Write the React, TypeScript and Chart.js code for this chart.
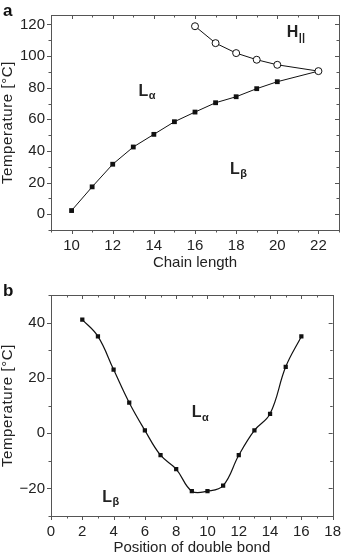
import { useEffect, useRef } from "react";
import { Chart, registerables } from "chart.js";

Chart.register(...registerables);

// Panel a: main transition (filled squares) and Lα → H‖ transition (open circles)
const chainLengths = [10, 11, 12, 13, 14, 15, 16, 17, 18, 19, 20, 22];
const mainTransitionTemps = [2.3, 17.3, 31.6, 42.5, 50.5, 58.5, 64.6, 70.5, 74.3, 79.4, 83.8, 90.5];
const hexChainLengths = [16, 17, 18, 19, 20, 22];
const hexTransitionTemps = [118.9, 108.2, 101.9, 97.7, 94.5, 90.5];
const chainTicks = [10, 12, 14, 16, 18, 20, 22];
const tempTicksA = [0, 20, 40, 60, 80, 100, 120];

// Panel b: main transition vs. position of the double bond
const bondPositions = [2, 3, 4, 5, 6, 7, 8, 9, 10, 11, 12, 13, 14, 15, 16];
const bondTemps = [41.1, 35, 23, 11, 1, -8, -13, -21, -21, -19, -8, 1, 7, 24, 35];
const bondTicks = [0, 2, 4, 6, 8, 10, 12, 14, 16, 18];
const tempTicksB = [-20, 0, 20, 40];

type PhaseLabel = { main: string; sub: string; x: number; y: number };
const phaseLabelsA: PhaseLabel[] = [
  { main: "L", sub: "α", x: 13.25, y: 75 },
  { main: "L", sub: "β", x: 17.7, y: 25.7 },
  { main: "H", sub: "||", x: 20.46, y: 112 },
];
const phaseLabelsB: PhaseLabel[] = [
  { main: "L", sub: "α", x: 9.0, y: 5.8 },
  { main: "L", sub: "β", x: 3.28, y: -24.8 },
];

const FONT = "'Liberation Sans', Arial, Helvetica, sans-serif";
const AXIS_COLOR = "#555";
const TEXT_COLOR = "#222";
const Y_TITLE = "Temperature [°C]";

type FrameOpts = {
  xMinorStep: number;
  yMinorStep: number;
  xMajorStep: number;
  yMajorStep: number;
  labels: PhaseLabel[];
  letter: string;
};

// Draws the box frame with outward ticks (left/bottom), inward ticks (top/right),
// the y-axis title, phase labels with subscripts and the panel letter.
const framePlugin = {
  id: "frame",
  afterDatasetsDraw(chart: any, _args: any, opts: FrameOpts) {
    const { ctx, chartArea } = chart;
    const { left, right, top, bottom } = chartArea;
    const xs = chart.scales.x;
    const ys = chart.scales.y;
    ctx.save();
    ctx.strokeStyle = AXIS_COLOR;
    ctx.lineWidth = 1;
    ctx.beginPath();
    ctx.rect(Math.round(left) + 0.5, Math.round(top) + 0.5, Math.round(right - left), Math.round(bottom - top));
    ctx.stroke();

    const isMajor = (v: number, step: number) => Math.abs(v / step - Math.round(v / step)) < 1e-6;
    const majorLen = 4;
    const minorLen = 2.5;
    ctx.beginPath();
    for (let v = Math.ceil(xs.min / opts.xMinorStep) * opts.xMinorStep; v <= xs.max + 1e-9; v += opts.xMinorStep) {
      const px = Math.round(xs.getPixelForValue(v)) + 0.5;
      const len = isMajor(v, opts.xMajorStep) ? majorLen : minorLen;
      ctx.moveTo(px, bottom);
      ctx.lineTo(px, bottom + len);
      ctx.moveTo(px, top);
      ctx.lineTo(px, top + len);
    }
    for (let v = Math.ceil(ys.min / opts.yMinorStep) * opts.yMinorStep; v <= ys.max + 1e-9; v += opts.yMinorStep) {
      const py = Math.round(ys.getPixelForValue(v)) + 0.5;
      const len = isMajor(v, opts.yMajorStep) ? majorLen : minorLen;
      ctx.moveTo(left, py);
      ctx.lineTo(left - len, py);
      ctx.moveTo(right, py);
      ctx.lineTo(right - len, py);
    }
    ctx.stroke();

    // rotated y-axis title, slightly letter-spaced
    ctx.save();
    ctx.translate(8, (top + bottom) / 2);
    ctx.rotate(-Math.PI / 2);
    ctx.font = `15px ${FONT}`;
    ctx.fillStyle = TEXT_COLOR;
    ctx.textAlign = "center";
    ctx.textBaseline = "middle";
    (ctx as any).letterSpacing = "0.6px";
    ctx.fillText(Y_TITLE, 0, 0);
    ctx.restore();

    ctx.fillStyle = TEXT_COLOR;
    ctx.textBaseline = "alphabetic";
    ctx.textAlign = "left";
    for (const lab of opts.labels) {
      const px = xs.getPixelForValue(lab.x);
      const py = ys.getPixelForValue(lab.y);
      ctx.font = `bold 16px ${FONT}`;
      ctx.fillText(lab.main, px, py);
      const w = ctx.measureText(lab.main).width;
      ctx.font = `bold 11px ${FONT}`;
      ctx.fillText(lab.sub, px + w + 0.5, py + 3.5);
    }

    ctx.font = `bold 17px ${FONT}`;
    ctx.fillStyle = "#111";
    ctx.fillText(opts.letter, 3, 16);
    ctx.restore();
  },
};

function tempLabel(v: number | string) {
  const n = Number(v);
  return n < 0 ? `\u2212${Math.abs(n)}` : `${n}`;
}

function makeScales(cfg: {
  xMin: number; xMax: number; yMin: number; yMax: number;
  xTicks: number[]; yTicks: number[]; xTitle: string; yAxisWidth: number; xAxisHeight: number; xTitlePad: number;
}) {
  const tickFont = { family: FONT, size: 15 };
  return {
    x: {
      type: "linear",
      min: cfg.xMin,
      max: cfg.xMax,
      grid: { display: false, drawTicks: false },
      border: { display: false },
      afterBuildTicks: (s: any) => { s.ticks = cfg.xTicks.map((v) => ({ value: v })); },
      afterFit: (s: any) => { s.height = cfg.xAxisHeight; },
      ticks: { font: tickFont, color: TEXT_COLOR, padding: 7, maxRotation: 0, autoSkip: false },
      title: { display: true, text: cfg.xTitle, font: tickFont, color: TEXT_COLOR, padding: { top: 0, bottom: cfg.xTitlePad } },
    },
    y: {
      type: "linear",
      min: cfg.yMin,
      max: cfg.yMax,
      grid: { display: false, drawTicks: false },
      border: { display: false },
      afterBuildTicks: (s: any) => { s.ticks = cfg.yTicks.map((v) => ({ value: v })); },
      afterFit: (s: any) => { s.width = cfg.yAxisWidth; },
      ticks: { font: tickFont, color: TEXT_COLOR, padding: 6, callback: tempLabel, autoSkip: false },
      title: { display: false },
    },
  };
}

function PanelA() {
  const ref = useRef<HTMLCanvasElement>(null);
  useEffect(() => {
    const chart = new Chart(ref.current!, {
      type: "scatter",
      data: {
        datasets: [
          {
            label: "hex",
            data: hexChainLengths.map((x, i) => ({ x, y: hexTransitionTemps[i] })),
            showLine: true,
            borderColor: "#111",
            borderWidth: 1,
            pointStyle: "circle",
            pointRadius: 3.5,
            pointBackgroundColor: "#fff",
            pointBorderColor: "#111",
            pointBorderWidth: 1,
            order: 0,
          },
          {
            label: "main",
            data: chainLengths.map((x, i) => ({ x, y: mainTransitionTemps[i] })),
            showLine: true,
            borderColor: "#111",
            borderWidth: 1,
            pointStyle: "rect",
            pointRadius: chainLengths.map((x) => (x === 22 ? 0 : 3.4)),
            pointBackgroundColor: "#111",
            pointBorderColor: "#111",
            pointBorderWidth: 0,
            order: 1,
          },
        ],
      },
      options: {
        responsive: false,
        animation: false,
        events: [],
        layout: { padding: { left: 0, right: 9, top: 15, bottom: 0 } },
        plugins: {
          legend: { display: false },
          tooltip: { enabled: false },
          frame: { xMinorStep: 1, yMinorStep: 10, xMajorStep: 2, yMajorStep: 20, labels: phaseLabelsA, letter: "a" },
        } as any,
        scales: makeScales({
          xMin: 9, xMax: 23, yMin: -10, yMax: 126,
          xTicks: chainTicks, yTicks: tempTicksA, xTitle: "Chain length",
          yAxisWidth: 51, xAxisHeight: 50, xTitlePad: 8,
        }) as any,
      },
      plugins: [framePlugin],
    });
    return () => chart.destroy();
  }, []);
  return <canvas ref={ref} width={348} height={280} style={{ display: "block", width: 348, height: 280 }} />;
}

function PanelB() {
  const ref = useRef<HTMLCanvasElement>(null);
  useEffect(() => {
    const chart = new Chart(ref.current!, {
      type: "scatter",
      data: {
        datasets: [
          {
            label: "main",
            data: bondPositions.map((x, i) => ({ x, y: bondTemps[i] })),
            showLine: true,
            tension: 0.4,
            borderColor: "#111",
            borderWidth: 1.2,
            pointStyle: "rect",
            pointRadius: 3,
            pointBackgroundColor: "#111",
            pointBorderColor: "#111",
            pointBorderWidth: 0,
          },
        ],
      },
      options: {
        responsive: false,
        animation: false,
        events: [],
        layout: { padding: { left: 0, right: 9, top: 14, bottom: 0 } },
        plugins: {
          legend: { display: false },
          tooltip: { enabled: false },
          frame: { xMinorStep: 1, yMinorStep: 10, xMajorStep: 2, yMajorStep: 20, labels: phaseLabelsB, letter: "b" },
        } as any,
        scales: makeScales({
          xMin: 0, xMax: 18, yMin: -30, yMax: 50,
          xTicks: bondTicks, yTicks: tempTicksB, xTitle: "Position of double bond",
          yAxisWidth: 51, xAxisHeight: 42, xTitlePad: 1,
        }) as any,
      },
      plugins: [framePlugin],
    });
    return () => chart.destroy();
  }, []);
  return <canvas ref={ref} width={348} height={278} style={{ display: "block", width: 348, height: 278 }} />;
}

export default function App() {
  return (
    <div style={{ position: "absolute", left: 0, top: 0, width: 348, height: 558, background: "#fff" }}>
      <PanelA />
      <PanelB />
    </div>
  );
}
